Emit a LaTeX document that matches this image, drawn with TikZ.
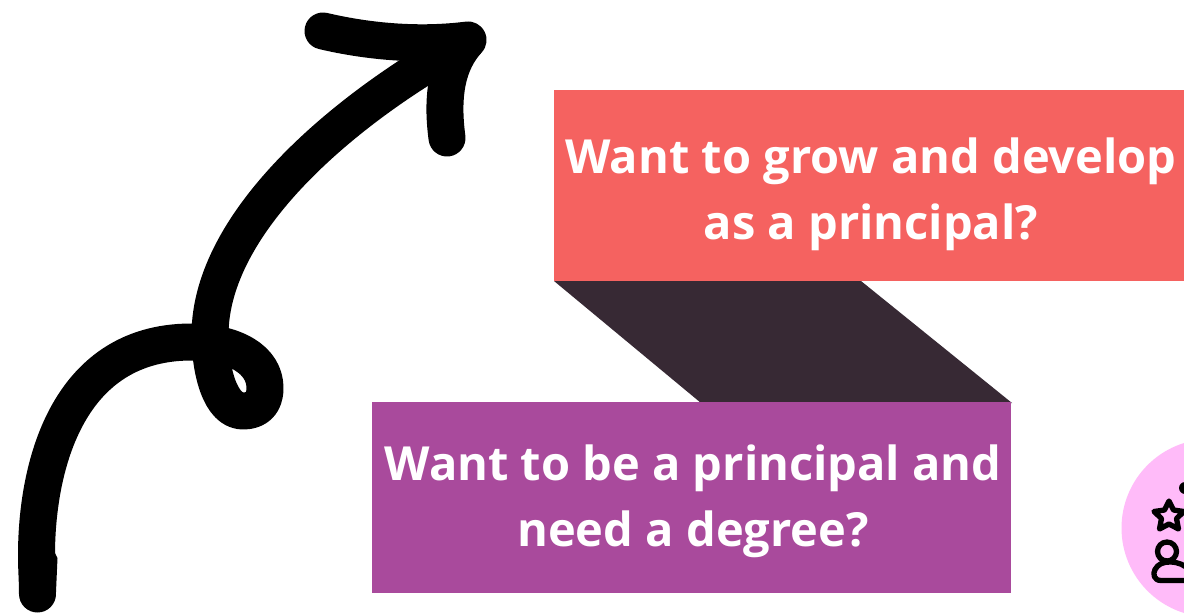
\documentclass[tikz,border=0pt]{standalone}
\usepackage{fontspec}
\setmainfont{Open Sans}
\definecolor{coral}{HTML}{F56260}
\definecolor{plum}{HTML}{A94A9C}
\definecolor{darkshade}{HTML}{372934}
\definecolor{pinkdisc}{HTML}{FFBBF9}
\tikzset{
  x=1pt,y=-1pt,
  stroke/.style={draw=black,line width=37pt,line cap=round,line join=round},
  icon/.style={draw=black,line width=5.3pt,line cap=round,line join=round},
  label/.style={text=white,font=\fontsize{47}{66}\selectfont\bfseries,align=center,inner sep=0pt}
}
\begin{document}
\begin{tikzpicture}
\useasboundingbox (0,0) rectangle (1184,613);
\fill[white] (0,0) rectangle (1184,613);
\fill[darkshade] (554,281) -- (861,281) -- (1012,403) -- (701,403) -- cycle;
\fill[coral] (554,90) rectangle (1184,281);
\fill[plum] (372,402) rectangle (1011,593);
\node[label] (top) at (871,194) {Want to grow and develop\\as a principal?};
\node[label] (bottom) at (693,501) {Want to be a principal and\\need a degree?};
% arrow
\draw[stroke] (37.5,594) .. controls (37.5,580) and (36.5,570) .. (36.5,555)
  .. controls (36.5,472) and (64,343) .. (190,342)
  .. controls (235,342) and (265,360) .. (265,388)
  .. controls (265,405) and (255,411) .. (243,411)
  .. controls (220,411) and (210,370) .. (210,335)
  .. controls (210,222) and (345,108) .. (466,42);
\fill[black] (54,551) -- (57.5,558) -- (56,592) -- (50,592) -- cycle;
\draw[stroke] (323,31) .. controls (370,42) and (420,46) .. (468,40)
  .. controls (445,65) and (442,100) .. (447,138);
% icon
\fill[pinkdisc] (1210.5,528) circle (89);
\clip (0,0) rectangle (1184,613);
\draw[icon] (1169,501) -- (1173.5,510) -- (1184,511.5) -- (1176.5,518.5) -- (1178.5,529)
  -- (1169,524) -- (1159.5,529) -- (1161.5,518.5) -- (1154,511.5) -- (1164.5,510) -- cycle;
\draw[icon] (1167,551.5) circle (9.5);
\draw[icon] (1189,580.5) -- (1161,580.5) .. controls (1154,580.5) and (1152.5,574) .. (1155,569.5)
  .. controls (1158,564) and (1163,562) .. (1170,562) .. controls (1178,562) and (1185,565) .. (1189,570);
\fill[black] (1185,488) circle (6);
\end{tikzpicture}
\end{document}
